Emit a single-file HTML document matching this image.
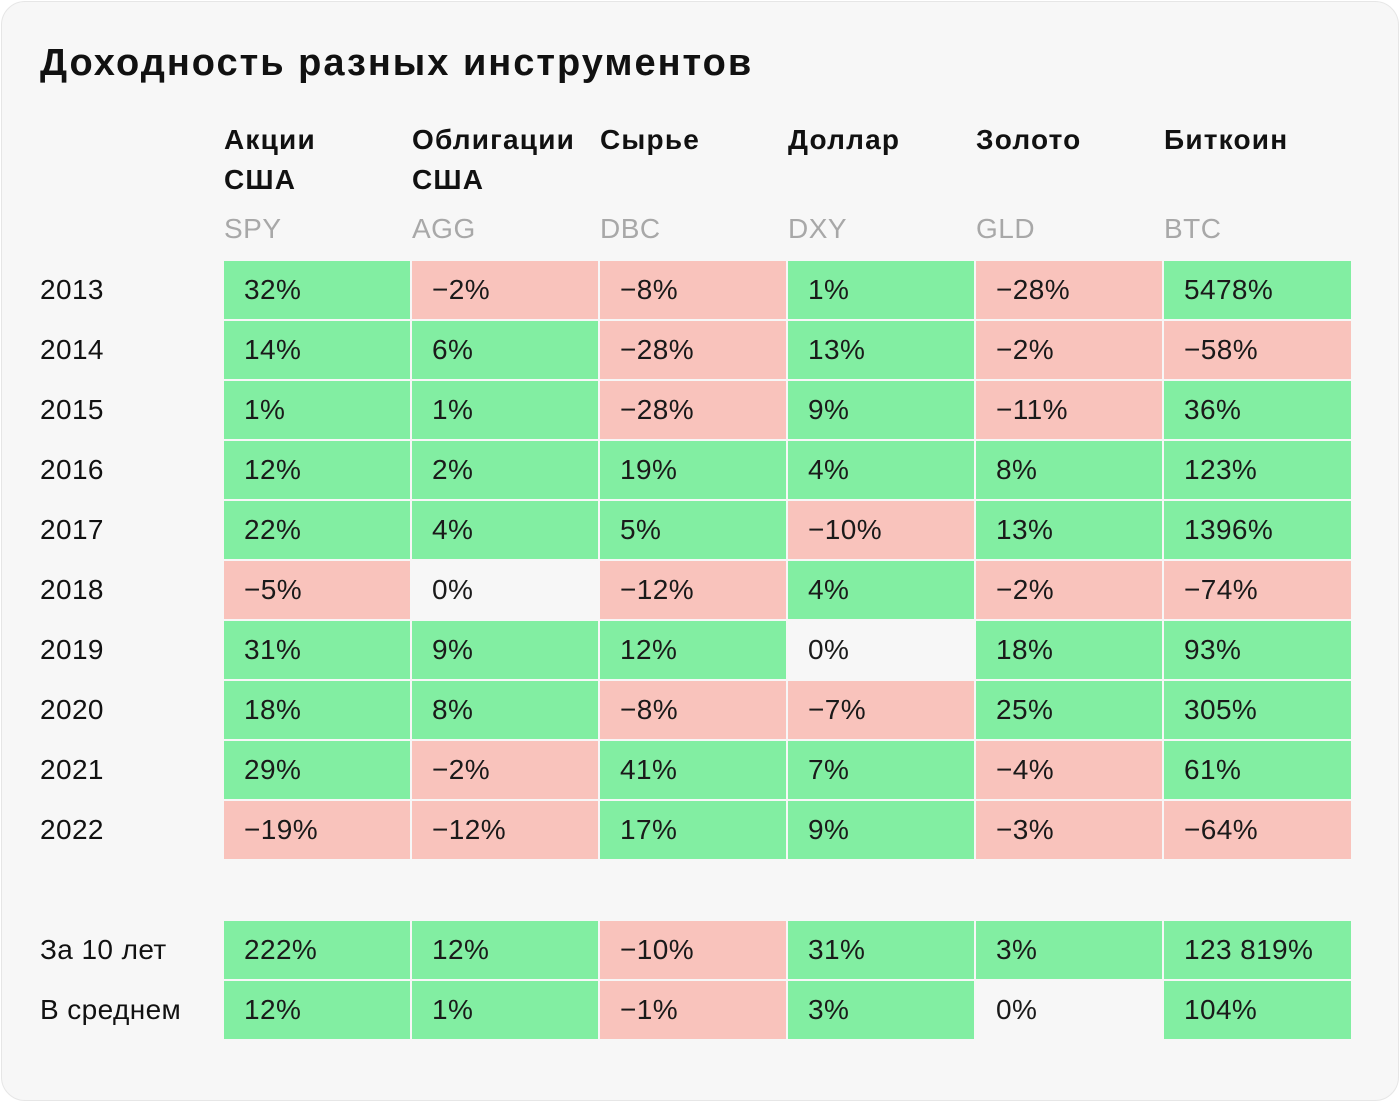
<!DOCTYPE html><html><head><meta charset="utf-8"><style>
body{margin:0;width:1400px;height:1102px;background:#fff;font-family:"Liberation Sans",sans-serif;}
.card{position:absolute;left:1px;top:1px;width:1396px;height:1098px;background:#f7f7f7;border:1px solid #e6e6e6;border-radius:24px;}
.t{position:absolute;white-space:nowrap;color:#111;}
.c{position:absolute;width:186px;height:58px;line-height:58px;font-size:28px;color:#1a1a1a;box-sizing:border-box;padding-left:20px;letter-spacing:0.4px}
.g{background:#82eea2}.r{background:#f9c3bc}
</style></head><body><div class="card"></div>
<div class="t" style="left:40px;top:42px;font-size:38px;font-weight:bold;letter-spacing:2px">Доходность разных инструментов</div>
<div id="h"></div>
<script>
const cols=["Акции<br>США","Облигации<br>США","Сырье","Доллар","Золото","Биткоин"],tk=["SPY","AGG","DBC","DXY","GLD","BTC"];
const xs=[224,412,600,788,976,1164];
let h="";
cols.forEach((c,i)=>{h+=`<div class="t" style="left:${xs[i]}px;top:120px;font-size:28px;font-weight:bold;line-height:40px;letter-spacing:1.2px">${c}</div><div class="t" style="left:${xs[i]}px;top:213px;font-size:28px;color:#a8a8a8;letter-spacing:0.5px">${tk[i]}</div>`});
const rows=[["2013","32%","−2%","−8%","1%","−28%","5478%"],["2014","14%","6%","−28%","13%","−2%","−58%"],["2015","1%","1%","−28%","9%","−11%","36%"],["2016","12%","2%","19%","4%","8%","123%"],["2017","22%","4%","5%","−10%","13%","1396%"],["2018","−5%","0%","−12%","4%","−2%","−74%"],["2019","31%","9%","12%","0%","18%","93%"],["2020","18%","8%","−8%","−7%","25%","305%"],["2021","29%","−2%","41%","7%","−4%","61%"],["2022","−19%","−12%","17%","9%","−3%","−64%"],null,["За 10 лет","222%","12%","−10%","31%","3%","123 819%"],["В среднем","12%","1%","−1%","3%","0%","104%"]];
rows.forEach((r,j)=>{if(!r)return;const y=261+60*j;
h+=`<div class="t" style="left:40px;top:${y}px;line-height:58px;font-size:28px;letter-spacing:0.4px">${r[0]}</div>`;
for(let i=1;i<7;i++){const v=r[i];const cls=v.startsWith("−")?"r":(v==="0%"?"":"g");
h+=`<div class="c ${cls}" style="left:${xs[i-1]}px;top:${y}px;width:${i==6?187:186}px">${v}</div>`}});
document.getElementById("h").innerHTML=h;
</script></body></html>
